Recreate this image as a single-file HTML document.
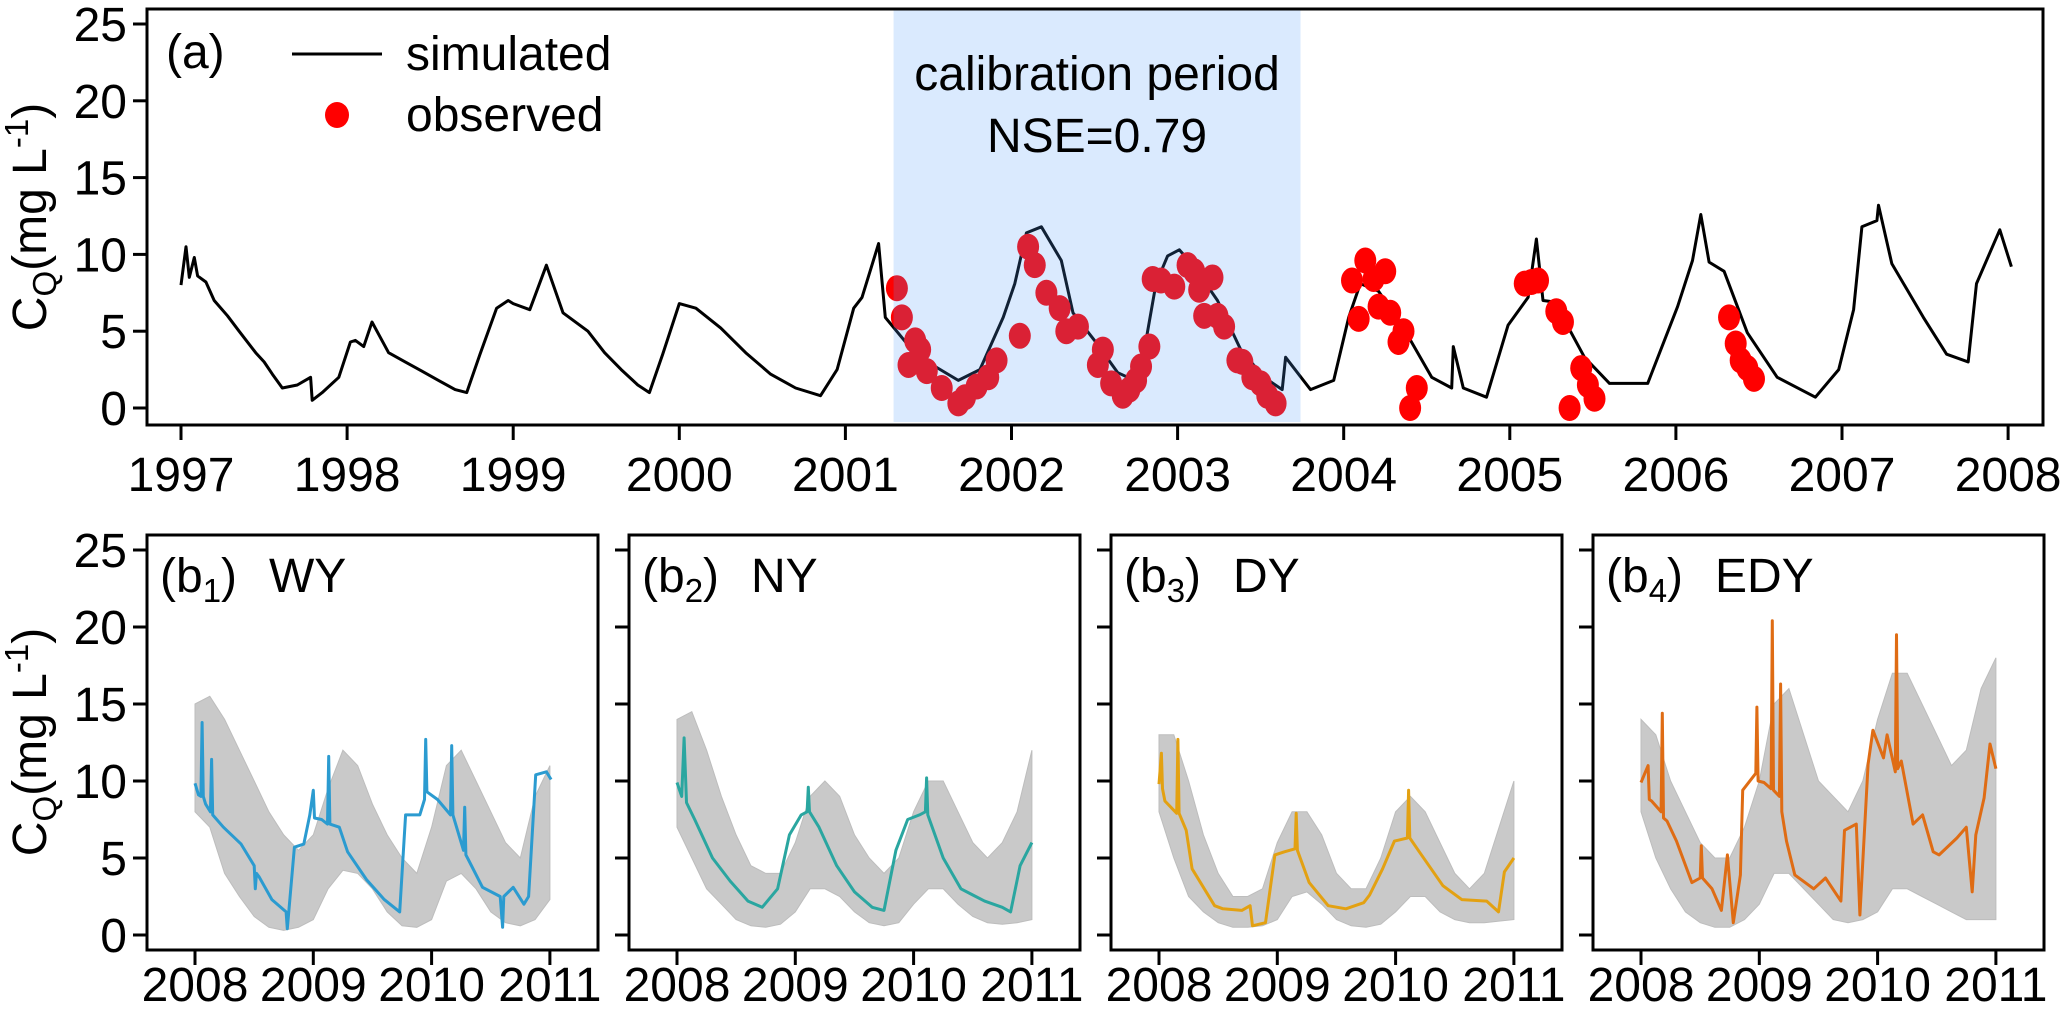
<!DOCTYPE html>
<html><head><meta charset="utf-8"><style>
html,body{margin:0;padding:0;background:#fff;}
svg{display:block;font-family:"Liberation Sans",Arial,sans-serif;}
</style></head><body>
<svg id="fig" width="2067" height="1012" viewBox="0 0 2067 1012" xmlns="http://www.w3.org/2000/svg"></svg>
<script>
// ---- Panel (a) data ----
const simYears=[1997.0,1997.03,1997.05,1997.08,1997.1,1997.15,1997.2,1997.28,1997.35,1997.45,1997.5,1997.55,1997.61,1997.7,1997.78,1997.79,1997.85,1997.95,1998.02,1998.05,1998.1,1998.15,1998.25,1998.35,1998.45,1998.55,1998.65,1998.72,1998.8,1998.9,1998.97,1999.0,1999.1,1999.2,1999.3,1999.45,1999.55,1999.65,1999.75,1999.82,1999.9,2000.0,2000.1,2000.25,2000.4,2000.55,2000.7,2000.85,2000.95,2001.05,2001.1,2001.2,2001.24,2001.4,2001.54,2001.68,2001.81,2001.95,2002.02,2002.09,2002.18,2002.3,2002.37,2002.5,2002.64,2002.74,2002.8,2002.87,2002.94,2003.01,2003.1,2003.24,2003.38,2003.52,2003.63,2003.65,2003.8,2003.94,2004.03,2004.1,2004.21,2004.35,2004.53,2004.65,2004.66,2004.72,2004.86,2004.99,2005.11,2005.16,2005.2,2005.27,2005.45,2005.6,2005.83,2006.01,2006.1,2006.15,2006.2,2006.29,2006.43,2006.61,2006.84,2006.98,2007.07,2007.12,2007.21,2007.22,2007.3,2007.49,2007.63,2007.76,2007.81,2007.95,2008.02];
const simValues=[8.0,10.5,8.5,9.8,8.6,8.2,7.0,6.0,5.0,3.6,3.0,2.2,1.3,1.5,2.0,0.5,1.0,2.0,4.3,4.4,4.0,5.6,3.6,3.0,2.4,1.8,1.2,1.0,3.5,6.5,7.0,6.8,6.4,9.3,6.2,5.0,3.6,2.5,1.5,1.0,3.5,6.8,6.5,5.2,3.6,2.2,1.3,0.8,2.5,6.5,7.2,10.7,5.9,3.8,2.7,1.8,2.5,5.9,8.1,11.4,11.8,9.6,6.2,4.4,2.3,1.8,3.8,8.1,9.9,10.3,9.2,7.0,3.8,2.0,1.2,3.3,1.2,1.8,5.9,8.1,7.6,5.4,2.0,1.3,4.0,1.3,0.7,5.4,7.2,11.0,7.0,6.9,3.3,1.6,1.6,6.6,9.6,12.6,9.5,8.9,4.9,2.0,0.7,2.5,6.4,11.8,12.2,13.2,9.4,5.9,3.5,3.0,8.1,11.6,9.2];
const obsYears=[2001.31,2001.34,2001.38,2001.42,2001.45,2001.49,2001.58,2001.68,2001.72,2001.79,2001.86,2001.91,2002.05,2002.1,2002.14,2002.21,2002.29,2002.33,2002.4,2002.52,2002.55,2002.6,2002.67,2002.71,2002.75,2002.78,2002.83,2002.85,2002.9,2002.98,2003.06,2003.1,2003.13,2003.16,2003.21,2003.24,2003.28,2003.36,2003.39,2003.45,2003.5,2003.54,2003.59,2004.05,2004.09,2004.13,2004.18,2004.21,2004.25,2004.28,2004.33,2004.36,2004.4,2004.44,2005.09,2005.13,2005.17,2005.28,2005.32,2005.36,2005.43,2005.47,2005.51,2006.32,2006.36,2006.39,2006.43,2006.47];
const obsValues=[7.8,5.9,2.8,4.4,3.8,2.4,1.3,0.3,0.7,1.4,2.0,3.1,4.7,10.5,9.3,7.5,6.5,5.0,5.3,2.8,3.8,1.6,0.8,1.2,1.8,2.7,4.0,8.4,8.3,7.9,9.3,8.9,7.7,6.0,8.5,6.0,5.3,3.1,3.0,2.0,1.6,0.8,0.3,8.3,5.8,9.6,8.4,6.6,8.9,6.2,4.3,5.0,0.0,1.3,8.1,8.2,8.3,6.3,5.6,0.0,2.6,1.5,0.6,5.9,4.2,3.1,2.6,1.9];
const topYearTicks=[1997,1998,1999,2000,2001,2002,2003,2004,2005,2006,2007,2008];
const yTicks=[0,5,10,15,20,25];
const calibStart=2001.29, calibEnd=2003.74;

// ---- Panels (b) data ----
const bYearTicks=[2008,2009,2010,2011];
const envYears=[2008,2008.125,2008.25,2008.375,2008.5,2008.625,2008.75,2008.875,2009,2009.125,2009.25,2009.375,2009.5,2009.625,2009.75,2009.875,2010,2010.125,2010.25,2010.375,2010.5,2010.625,2010.75,2010.875,2011];
const b1Upper=[15,15.5,14,12,10,8,6.5,5.5,6.5,9.5,12,11,8.5,6.5,5,4,7,11,12,10,8,6,5,9,11];
const b1Lower=[8,7,4,2.5,1.2,0.5,0.3,0.5,1,3,4.2,4,3,1.5,0.6,0.5,1,3.5,4,3,1.5,0.8,0.6,1,2.3];
const b2Upper=[14,14.5,12,9,6.5,4.5,4,4,6,9,10,9,6.5,5,4,5,8,10,10,8,6,5,6,8,12];
const b2Lower=[7,5,3,2,1,0.6,0.5,0.7,1.5,3,3,2.5,1.5,0.8,0.6,0.8,2,3,3,2,1.2,0.8,0.7,0.8,1];
const b3Upper=[13,13,10,6.5,4,2.5,2.5,3,6,8,8,6.5,4,3,3,5,8,9,8,6,4,3,4,7,10];
const b3Lower=[8,5,2.5,1.5,0.8,0.5,0.5,0.6,1,2.5,2.8,2,1,0.6,0.5,0.7,1.5,2.5,2.5,1.5,1,0.8,0.8,0.9,1];
const b4Upper=[14,13,10,8,6,5,5,7,10,15,16,13,10,9,8,10,14,17,17,15,13,11,12,16,18];
const b4Lower=[8,5,3,1.5,0.8,0.5,0.5,1,2,4,4,3,2,1,0.8,1,1.5,3,3,2.5,2,1.5,1,1,1];
const b1Years=[2008.0,2008.03,2008.05,2008.06,2008.07,2008.09,2008.13,2008.14,2008.15,2008.24,2008.39,2008.5,2008.51,2008.52,2008.54,2008.65,2008.77,2008.78,2008.84,2008.92,2008.97,2009.0,2009.01,2009.07,2009.12,2009.13,2009.14,2009.22,2009.29,2009.45,2009.6,2009.73,2009.78,2009.9,2009.94,2009.95,2009.96,2010.05,2010.16,2010.17,2010.18,2010.27,2010.28,2010.29,2010.31,2010.43,2010.58,2010.6,2010.61,2010.69,2010.78,2010.82,2010.88,2010.97,2011.01];
const b1Values=[9.85,9.1,9.0,13.8,9.0,8.5,8.0,11.4,7.8,7.0,5.9,4.5,3.0,4.0,3.8,2.3,1.5,0.4,5.7,5.9,7.8,9.4,7.6,7.5,7.2,11.6,7.2,7.0,5.4,3.6,2.3,1.5,7.8,7.8,8.8,12.7,9.3,8.8,7.8,12.3,7.8,5.5,8.3,5.2,4.9,3.1,2.5,0.5,2.5,3.1,2.0,2.5,10.4,10.6,10.1];
const b2Years=[2008.0,2008.04,2008.06,2008.08,2008.15,2008.3,2008.45,2008.6,2008.72,2008.85,2008.95,2009.05,2009.1,2009.11,2009.12,2009.2,2009.35,2009.5,2009.65,2009.75,2009.85,2009.95,2010.05,2010.1,2010.11,2010.12,2010.25,2010.4,2010.5,2010.6,2010.75,2010.82,2010.9,2011.0];
const b2Values=[9.9,9.0,12.8,8.6,7.5,5.0,3.5,2.2,1.8,3.0,6.5,7.8,8.0,9.6,8.0,7.0,4.5,2.8,1.8,1.6,5.5,7.5,7.8,8.0,10.2,7.8,5.0,3.0,2.6,2.2,1.8,1.5,4.5,6.0];
const b3Years=[2008.0,2008.02,2008.03,2008.05,2008.15,2008.16,2008.17,2008.23,2008.28,2008.47,2008.54,2008.7,2008.77,2008.79,2008.9,2008.98,2009.06,2009.15,2009.16,2009.17,2009.27,2009.43,2009.58,2009.73,2009.78,2009.89,2009.99,2010.1,2010.11,2010.12,2010.2,2010.4,2010.56,2010.77,2010.87,2010.92,2011.0];
const b3Values=[9.8,11.8,9.5,8.7,7.9,12.7,7.9,6.8,4.3,1.9,1.7,1.6,1.9,0.6,0.8,5.2,5.4,5.6,7.9,5.5,3.4,1.9,1.7,2.1,2.6,4.3,6.1,6.3,9.4,6.3,5.4,3.2,2.3,2.2,1.5,4.1,5.0];
const b4Years=[2008.0,2008.06,2008.07,2008.09,2008.17,2008.18,2008.19,2008.22,2008.3,2008.43,2008.5,2008.51,2008.52,2008.6,2008.68,2008.73,2008.78,2008.84,2008.86,2008.97,2008.98,2008.99,2009.04,2009.1,2009.11,2009.12,2009.17,2009.18,2009.19,2009.23,2009.3,2009.46,2009.56,2009.69,2009.72,2009.82,2009.85,2009.92,2009.96,2010.05,2010.08,2010.15,2010.16,2010.17,2010.2,2010.3,2010.38,2010.47,2010.52,2010.67,2010.75,2010.8,2010.83,2010.9,2010.95,2011.0];
const b4Values=[9.9,11.0,8.8,8.7,8.0,14.4,7.6,7.4,6.1,3.4,3.7,5.8,3.7,3.0,1.6,5.2,0.8,3.9,9.4,10.5,14.8,10.0,9.9,9.5,20.4,9.4,9.0,16.3,8.0,6.1,3.9,3.0,3.7,2.2,6.8,7.2,1.3,11.1,13.3,11.5,13.0,10.6,19.5,10.8,11.3,7.2,7.8,5.4,5.2,6.3,7.0,2.8,6.5,8.9,12.4,10.8];

const NS="http://www.w3.org/2000/svg";
const svg=document.getElementById('fig');
function mk(tag,attrs,parent){const e=document.createElementNS(NS,tag);for(const k in attrs)e.setAttribute(k,attrs[k]);(parent||svg).appendChild(e);return e;}
const FS=48;

function yLabel(cx,cy){
  const t=mk('text',{x:0,y:0,'font-size':FS,'text-anchor':'middle',transform:`translate(${cx},${cy}) rotate(-90)`});
  
  
  t.innerHTML='C<tspan font-size="33" dy="10">Q</tspan><tspan dy="-10">(mg L</tspan><tspan font-size="33" dy="-18">-1</tspan><tspan dy="18">)</tspan>';
}

// ============ Panel (a) ============
const A={l:147,r:2043,t:9,b:425};
const ax=y=>181+(y-1997)*166.1;
const ay=v=>408-v*15.36;
const gA=mk('g',{});


let d='';simYears.forEach((y,i)=>{d+=(i?'L':'M')+ax(y).toFixed(1)+','+ay(simValues[i]).toFixed(1);});
const simLine=mk('path',{d:d,fill:'none',stroke:'#000','stroke-width':3,'stroke-linejoin':'round'},gA);


obsYears.forEach((y,i)=>{
  const c=mk('ellipse',{cx:ax(y),cy:ay(obsValues[i]),rx:11,ry:13,fill:'#ff0000'},gA);
  
  
});
const sh=mk('rect',{x:ax(calibStart),y:A.t,width:ax(calibEnd)-ax(calibStart),height:A.b-A.t-3,fill:'rgb(82,154,250)','fill-opacity':0.21},gA);


const cx0=(ax(calibStart)+ax(calibEnd))/2;
const ct1=mk('text',{x:cx0,y:90,'font-size':FS,'text-anchor':'middle'},gA);ct1.textContent='calibration period';


const ct2=mk('text',{x:cx0,y:152,'font-size':FS,'text-anchor':'middle'},gA);ct2.textContent='NSE=0.79';


const fa=mk('rect',{x:A.l,y:A.t,width:A.r-A.l,height:A.b-A.t,fill:'none',stroke:'#000','stroke-width':3},gA);


yTicks.forEach(v=>{
  mk('line',{x1:A.l-14,x2:A.l,y1:ay(v),y2:ay(v),stroke:'#000','stroke-width':3},gA);
  const t=mk('text',{x:A.l-20,y:ay(v)+17,'font-size':FS,'text-anchor':'end'},gA);t.textContent=v;
  
  
});
topYearTicks.forEach(y=>{
  mk('line',{x1:ax(y),x2:ax(y),y1:A.b,y2:A.b+15,stroke:'#000','stroke-width':3},gA);
  const t=mk('text',{x:ax(y),y:491,'font-size':FS,'text-anchor':'middle'},gA);t.textContent=y;
  
  
});
const la=mk('text',{x:166,y:68,'font-size':FS},gA);la.textContent='(a)';


const lg=mk('g',{},gA);


mk('line',{x1:292,x2:382,y1:54,y2:54,stroke:'#000','stroke-width':3},lg);
const l1=mk('text',{x:406,y:70,'font-size':FS},lg);l1.textContent='simulated';


mk('ellipse',{cx:337,cy:115,rx:12,ry:13,fill:'#ff0000'},lg);
const l2=mk('text',{x:406,y:131,'font-size':FS},lg);l2.textContent='observed';


yLabel(46,217);

// ============ Panels (b) ============
const panels=[
 {left:147,lab:'1',name:'WY',color:'#2b9bd0',up:b1Upper,lo:b1Lower,ys:b1Years,vs:b1Values},
 {left:629,lab:'2',name:'NY',color:'#2aa6a0',up:b2Upper,lo:b2Lower,ys:b2Years,vs:b2Values},
 {left:1111,lab:'3',name:'DY',color:'#e3a112',up:b3Upper,lo:b3Lower,ys:b3Years,vs:b3Values},
 {left:1593,lab:'4',name:'EDY',color:'#df6c14',up:b4Upper,lo:b4Lower,ys:b4Years,vs:b4Values}];
const BT=535,BB=950,BW=451;
const by=v=>935-v*15.4;
panels.forEach((p,k)=>{
  const bx=y=>p.left+48+(y-2008)*118.3;
  const g=mk('g',{});
  
  
  let e='';
  envYears.forEach((y,i)=>{e+=(i?'L':'M')+bx(y).toFixed(1)+','+by(p.up[i]).toFixed(1);});
  for(let i=envYears.length-1;i>=0;i--){e+='L'+bx(envYears[i]).toFixed(1)+','+by(p.lo[i]).toFixed(1);}
  const band=mk('path',{d:e+'Z',fill:'#c9c9c9',stroke:'#bdbdbd','stroke-width':1},g);
  
  
  let dd='';p.ys.forEach((y,i)=>{dd+=(i?'L':'M')+bx(y).toFixed(1)+','+by(p.vs[i]).toFixed(1);});
  const ln=mk('path',{d:dd,fill:'none',stroke:p.color,'stroke-width':3,'stroke-linejoin':'round'},g);
  
  
  const fr=mk('rect',{x:p.left,y:BT,width:BW,height:BB-BT,fill:'none',stroke:'#000','stroke-width':3},g);
  
  
  yTicks.forEach(v=>{
    mk('line',{x1:p.left-14,x2:p.left,y1:by(v),y2:by(v),stroke:'#000','stroke-width':3},g);
    if(k===0){const t=mk('text',{x:p.left-20,y:by(v)+17,'font-size':FS,'text-anchor':'end'},g);t.textContent=v;
      
      }
  });
  bYearTicks.forEach(y=>{
    mk('line',{x1:bx(y),x2:bx(y),y1:BB,y2:BB+15,stroke:'#000','stroke-width':3},g);
    const t=mk('text',{x:bx(y),y:1001,'font-size':FS,'text-anchor':'middle'},g);t.textContent=y;
    
    
  });
  const pl=mk('text',{x:p.left+13,y:592,'font-size':FS},g);
  pl.innerHTML='(b<tspan font-size="33" dy="10">'+p.lab+'</tspan><tspan dy="-10">)</tspan>';
  
  
  const pn=mk('text',{x:p.left+122,y:592,'font-size':FS},g);pn.textContent=p.name;
  
  
});
yLabel(46,742);
</script>
</body></html>
